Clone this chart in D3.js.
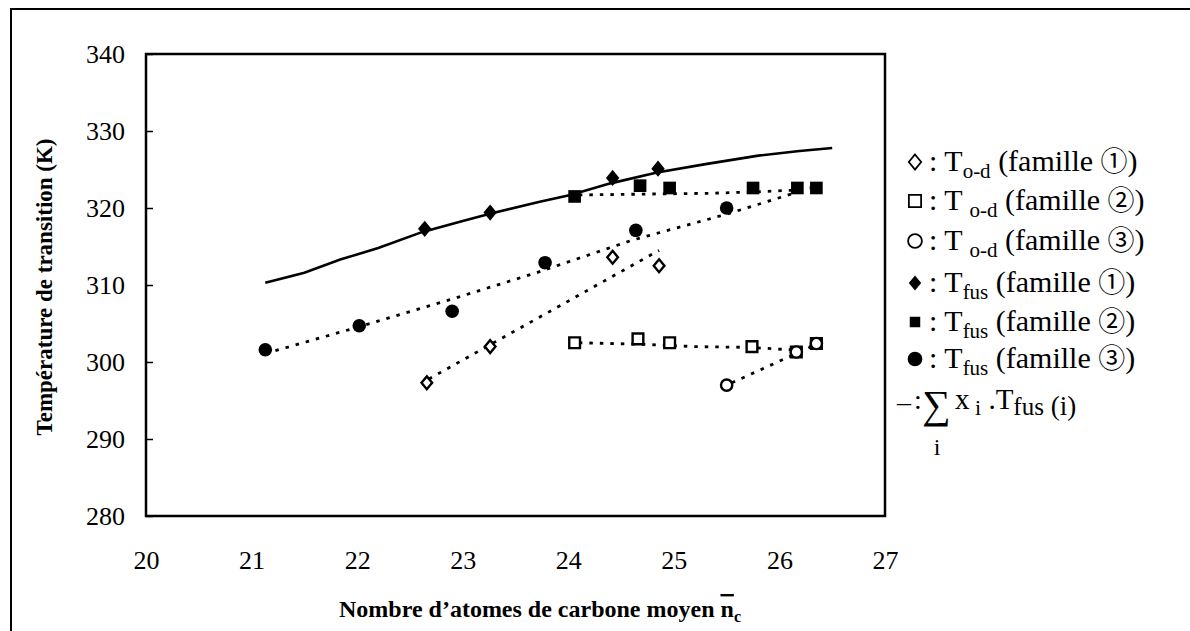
<!DOCTYPE html>
<html><head><meta charset="utf-8">
<script src="https://cdn.jsdelivr.net/npm/d3@7"></script>
<style>body{margin:0;background:#fff}svg{display:block}text{font-family:"Liberation Serif","Times New Roman",serif;fill:#000}</style>
</head><body>
<svg id="c" width="1190" height="631"></svg>
<script>
// ---- data ----
const xTicks = [20,21,22,23,24,25,26,27];
const yTicks = [280,290,300,310,320,330,340];

const tod1X = [22.66, 23.26, 24.42, 24.86];
const tod1Y = [297.3, 302.0, 313.6, 312.5];
const tod2X = [24.06, 24.66, 24.96, 25.74, 26.16, 26.35];
const tod2Y = [302.5, 303.0, 302.5, 302.0, 301.3, 302.4];
const tod3X = [25.5, 26.16, 26.35];
const tod3Y = [297.0, 301.3, 302.4];
const fus1X = [22.64, 23.26, 24.42, 24.85];
const fus1Y = [317.3, 319.4, 323.9, 325.1];
const fus2X = [24.06, 24.68, 24.96, 25.75, 26.17, 26.35];
const fus2Y = [321.5, 322.9, 322.6, 322.6, 322.6, 322.6];
const fus3X = [21.13, 22.02, 22.9, 23.78, 24.64, 25.5];
const fus3Y = [301.6, 304.7, 306.6, 312.9, 317.1, 320.0];

// sum of x_i.Tfus(i) curve
const sumX = [21.13, 21.5, 21.84, 22.2, 22.62, 23.0, 23.24, 23.73, 24.02, 24.4, 24.84, 25.3, 25.8, 26.19, 26.5];
const sumY = [310.3, 311.6, 313.3, 314.8, 316.9, 318.3, 319.2, 320.8, 321.7, 323.2, 324.6, 325.7, 326.8, 327.4, 327.8];

// dotted trend lines
const trTod1X = [22.68, 24.86];
const trTod1Y = [297.8, 314.5];
const trTod2X = [24.1, 24.7, 25.2, 25.7, 26.1, 26.35];
const trTod2Y = [302.5, 302.3, 302.0, 301.9, 301.6, 302.2];
const trTod3X = [25.55, 26.35];
const trTod3Y = [297.3, 302.3];
const trFus2X = [24.1, 24.7, 25.3, 25.8, 26.1, 26.35];
const trFus2Y = [321.7, 321.8, 321.9, 322.1, 322.3, 322.7];
const trFus3X = [21.13, 22.0, 23.0, 23.7, 24.6, 25.5, 26.25];
const trFus3Y = [301.1, 304.5, 308.6, 311.6, 315.8, 319.2, 322.4];

// ---- drawing ----
const svg = d3.select("#c");
const L = 146, R = 885, T = 54, B = 516;
const x = d3.scaleLinear().domain([20,27]).range([L,R]);
const y = d3.scaleLinear().domain([280,340]).range([B,T]);
const zip = (a,b) => a.map((v,i)=>[v,b[i]]);

// outer frame (only left/top edges visible)
svg.append("path").attr("d","M11,640 L11,9 L1200,9").attr("fill","none").attr("stroke","#000").attr("stroke-width",2);

// plot frame
svg.append("rect").attr("x",L).attr("y",T).attr("width",R-L).attr("height",B-T)
  .attr("fill","none").attr("stroke","#000").attr("stroke-width",2.5);

// y axis
const ya = svg.append("g").attr("transform",`translate(${L},0)`)
  .call(d3.axisLeft(y).tickValues(yTicks).tickSize(-7).tickPadding(21).tickFormat(d3.format("d")));
ya.select(".domain").remove();
ya.selectAll("line").attr("stroke","#000").attr("stroke-width",1.5);
ya.selectAll("text").style("font-family",'"Liberation Serif",serif').style("font-size","26px").attr("fill","#000");

// x axis labels
const xa = svg.append("g").attr("transform",`translate(0,${B})`)
  .call(d3.axisBottom(x).tickValues(xTicks).tickSize(0).tickPadding(0).tickFormat(d3.format("d")));
xa.select(".domain").remove();
xa.selectAll("text").attr("y",44).attr("dy","0.35em").style("font-family",'"Liberation Serif",serif').style("font-size","26px").attr("fill","#000");

// axis titles
svg.append("text").attr("transform","translate(52,287) rotate(-90)").attr("text-anchor","middle")
  .style("font-size","23px").style("font-weight","bold").text("Température de transition (K)");
const xt = svg.append("text").attr("x",540).attr("y",617).attr("text-anchor","middle").style("font-size","24px").style("font-weight","bold");
xt.append("tspan").text("Nombre d’atomes de carbone moyen  ");
xt.append("tspan").text("n").style("text-decoration","overline");
xt.append("tspan").text("c").style("font-size","16px").attr("dy",5);

// lines
const line = d3.line().x(d=>x(d[0])).y(d=>y(d[1]));
const dotted = (xs,ys)=>svg.append("path").attr("d",line(zip(xs,ys))).attr("fill","none")
  .attr("stroke","#000").attr("stroke-width",2.8).attr("stroke-dasharray","3.5,7");
dotted(trTod1X,trTod1Y); dotted(trTod2X,trTod2Y); dotted(trTod3X,trTod3Y);
dotted(trFus2X,trFus2Y); dotted(trFus3X,trFus3Y);
svg.append("path").attr("d",line(zip(sumX,sumY))).attr("fill","none").attr("stroke","#000").attr("stroke-width",2.6);

// markers
function marks(xs,ys,type,size,filled){
  svg.append("g").selectAll("path").data(zip(xs,ys)).join("path")
    .attr("transform",d=>`translate(${x(d[0])},${y(d[1])})`)
    .attr("d",d3.symbol().type(type).size(size))
    .attr("fill",filled?"#000":"#fff").attr("stroke","#000").attr("stroke-width",filled?0:2.4);
}
const diamond = {draw(ctx,s){const r=Math.sqrt(s)/2; ctx.moveTo(0,-r*1.15); ctx.lineTo(r*0.95,0); ctx.lineTo(0,r*1.15); ctx.lineTo(-r*0.95,0); ctx.closePath();}};
marks(tod1X,tod1Y,diamond,125,false);
marks(tod2X,tod2Y,d3.symbolSquare,115,false);
marks(tod3X,tod3Y,d3.symbolCircle,100,false);
marks(fus1X,fus1Y,diamond,200,true);
marks(fus2X,fus2Y,d3.symbolSquare,160,true);
marks(fus3X,fus3Y,d3.symbolCircle,145,true);

// legend
const legRows = [
  {sym:"dia", fill:false, sub:"o-d", fam:"①", gap:""},
  {sym:"sq",  fill:false, sub:"o-d", fam:"②", gap:" "},
  {sym:"ci",  fill:false, sub:"o-d", fam:"③", gap:" "},
  {sym:"dia", fill:true,  sub:"fus", fam:"①", gap:""},
  {sym:"sq",  fill:true,  sub:"fus", fam:"②", gap:""},
  {sym:"ci",  fill:true,  sub:"fus", fam:"③", gap:""}
];
const legY = [162, 201, 241, 283, 322, 359];
const symMap = {dia:diamond, sq:d3.symbolSquare, ci:d3.symbolCircle};
const symSize = {dia:[170,170], sq:[150,110], ci:[150,170]};
legRows.forEach((r,i)=>{
  const cy = legY[i];
  svg.append("path").attr("transform",`translate(915,${cy})`)
    .attr("d",d3.symbol().type(symMap[r.sym]).size(symSize[r.sym][r.fill?1:0]))
    .attr("fill",r.fill?"#000":"#fff").attr("stroke","#000").attr("stroke-width",r.fill?0:1.8);
  const t = svg.append("text").attr("x",929).attr("y",cy+9).style("font-size","30px");
  t.append("tspan").text(": T"+r.gap);
  t.append("tspan").text(r.sub).style("font-size","21px").attr("dy",7);
  t.append("tspan").text(" (famille ").attr("dy",-7);
  t.append("tspan").text(r.fam).style("font-size","27px").style("font-family",'"Noto Sans CJK JP",sans-serif');
  t.append("tspan").text(")");
});
// sum row
svg.append("text").attr("x",897).attr("y",411).style("font-size","28px").text("–");
svg.append("text").attr("x",914).attr("y",409).style("font-size","28px").text(":");
svg.append("text").attr("x",922).attr("y",418).style("font-size","40px").text("∑");
const st = svg.append("text").attr("x",955).attr("y",409).style("font-size","29px");
st.append("tspan").text("x");
st.append("tspan").text(" i").style("font-size","22px").attr("dy",6);
st.append("tspan").text(" .T").attr("dy",-6);
st.append("tspan").text("fus").style("font-size","25px").attr("dy",6);
st.append("tspan").text(" (i)").style("font-size","27px").attr("dy",0);
svg.append("text").attr("x",937).attr("y",455).attr("text-anchor","middle").style("font-size","24px").text("i");
</script>
</body></html>
